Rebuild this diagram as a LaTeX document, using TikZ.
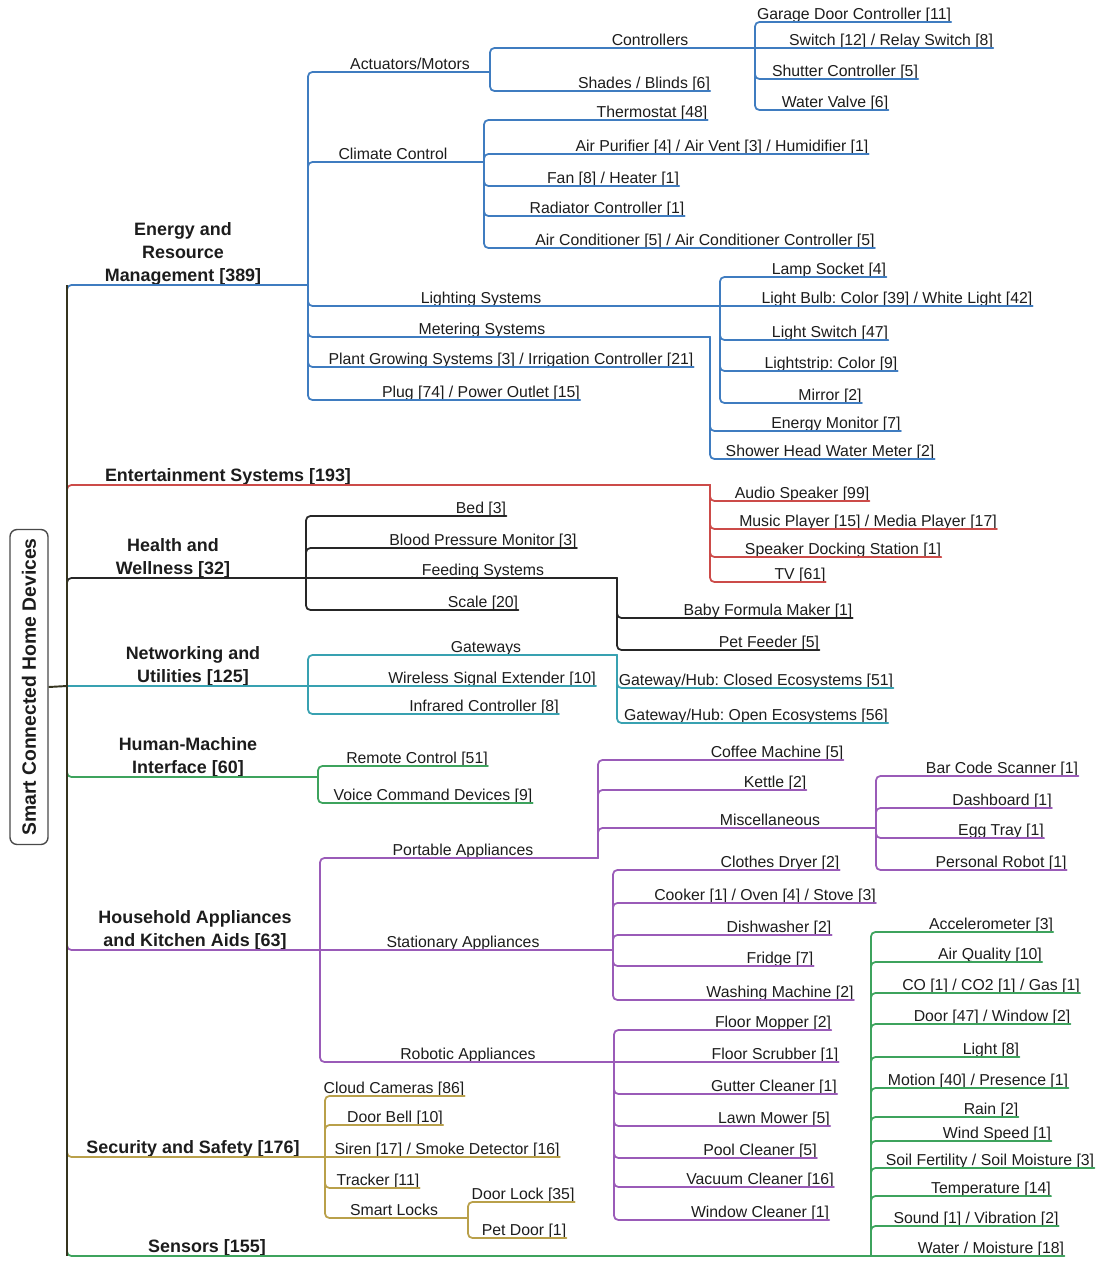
\documentclass[tikz,border=0pt]{standalone}
\usepackage{fontspec}
\setmainfont{Liberation Sans}
\frenchspacing
\definecolor{sdblue}{HTML}{3F7CC0}
\definecolor{sdred}{HTML}{CC4B49}
\definecolor{sdblack}{HTML}{262626}
\definecolor{sdteal}{HTML}{38A1B1}
\definecolor{sdgreen}{HTML}{3DA35D}
\definecolor{sdpurple}{HTML}{9A5BB8}
\definecolor{sdgold}{HTML}{B9A04A}
\definecolor{sdtrunk}{HTML}{35341F}
\definecolor{sdink}{HTML}{1C1C1C}
\tikzset{
  lf/.style={anchor=south, inner xsep=0pt, inner ysep=1pt, text depth=0pt, text=sdink, font=\fontsize{9}{11}\selectfont},
  cat/.style={lf, inner ysep=2pt, align=center, font=\fontsize{10.2}{13}\selectfont\bfseries},
  rootbox/.style={draw=sdink!80, line width=0.8pt, rounded corners=4pt, rotate=90, minimum width=6.3cm, minimum height=0.76cm, inner sep=0pt, text=sdink, font=\fontsize{11}{13}\selectfont\bfseries},
  br/.style={line width=1pt, rounded corners=2.5pt, line cap=round},
  eb/.style={br, draw=sdblue},
  en/.style={br, draw=sdred},
  hw/.style={br, draw=sdblack},
  nu/.style={br, draw=sdteal},
  hm/.style={br, draw=sdgreen},
  ha/.style={br, draw=sdpurple},
  ss/.style={br, draw=sdgold},
  sn/.style={br, draw=sdgreen},
  trunk/.style={line width=1.1pt, draw=sdtrunk},
}
\begin{document}
\begin{tikzpicture}[x=0.02cm, y=-0.02cm]
  \useasboundingbox (0,0) rectangle (1105,1262);
  \node[rootbox] (rootbox) at (29,687) {Smart Connected Home Devices};
  \coordinate (tr) at (67,686);

  \coordinate (energy-j) at (308,285);
  \node[cat] (energy) at (183,285) {Energy and\\Resource\\Management [389]};
  \draw[eb] (tr) |- (energy-j);
  \coordinate (act-j) at (490,72);
  \node[lf] (act) at (410,72) {Actuators/Motors};
  \draw[eb] (energy-j) |- (act-j);
  \coordinate (ctrl-j) at (755,48);
  \node[lf] (ctrl) at (650,48) {Controllers};
  \draw[eb] (act-j) |- (ctrl-j);
  \node[lf] (garage) at (854,22) {Garage Door Controller [11]};
  \draw[eb] (ctrl-j) |- (garage.south east);
  \node[lf] (relay) at (891,48) {Switch [12] / Relay Switch [8]};
  \draw[eb] (ctrl-j) -- (relay.south east);
  \node[lf] (shutter) at (845,79) {Shutter Controller [5]};
  \draw[eb] (ctrl-j) |- (shutter.south east);
  \node[lf] (valve) at (835,110) {Water Valve [6]};
  \draw[eb] (ctrl-j) |- (valve.south east);
  \node[lf] (shades) at (644,91) {Shades / Blinds [6]};
  \draw[eb] (act-j) |- (shades.south east);
  \coordinate (clim-j) at (484,162);
  \node[lf] (clim) at (393,162) {Climate Control};
  \draw[eb] (energy-j) |- (clim-j);
  \node[lf] (thermo) at (652,120) {Thermostat [48]};
  \draw[eb] (clim-j) |- (thermo.south east);
  \node[lf] (purif) at (722,154) {Air Purifier [4] / Air Vent [3] / Humidifier [1]};
  \draw[eb] (clim-j) |- (purif.south east);
  \node[lf] (fan) at (613,186) {Fan [8] / Heater [1]};
  \draw[eb] (clim-j) |- (fan.south east);
  \node[lf] (radiator) at (607,216) {Radiator Controller [1]};
  \draw[eb] (clim-j) |- (radiator.south east);
  \node[lf] (aircon) at (705,248) {Air Conditioner [5] / Air Conditioner Controller [5]};
  \draw[eb] (clim-j) |- (aircon.south east);
  \coordinate (lights-j) at (720,306);
  \node[lf] (lights) at (481,306) {Lighting Systems};
  \draw[eb] (energy-j) |- (lights-j);
  \node[lf] (lamp) at (829,277) {Lamp Socket [4]};
  \draw[eb] (lights-j) |- (lamp.south east);
  \node[lf] (bulb) at (897,306) {Light Bulb: Color [39] / White Light [42]};
  \draw[eb] (lights-j) -- (bulb.south east);
  \node[lf] (lswitch) at (830,340) {Light Switch [47]};
  \draw[eb] (lights-j) |- (lswitch.south east);
  \node[lf] (strip) at (831,371) {Lightstrip: Color [9]};
  \draw[eb] (lights-j) |- (strip.south east);
  \node[lf] (mirror) at (830,403) {Mirror [2]};
  \draw[eb] (lights-j) |- (mirror.south east);
  \coordinate (meter-j) at (710,337);
  \node[lf] (meter) at (482,337) {Metering Systems};
  \draw[eb] (energy-j) |- (meter-j);
  \node[lf] (energymon) at (836,431) {Energy Monitor [7]};
  \draw[eb] (meter-j) |- (energymon.south east);
  \node[lf] (shower) at (830,459) {Shower Head Water Meter [2]};
  \draw[eb] (meter-j) |- (shower.south east);
  \node[lf] (plant) at (511,367) {Plant Growing Systems [3] / Irrigation Controller [21]};
  \draw[eb] (energy-j) |- (plant.south east);
  \node[lf] (plug) at (481,400) {Plug [74] / Power Outlet [15]};
  \draw[eb] (energy-j) |- (plug.south east);

  \coordinate (entert-j) at (710,485);
  \node[cat] (entert) at (228,485) {Entertainment Systems [193]};
  \draw[en] (tr) |- (entert-j);
  \node[lf] (audio) at (802,501) {Audio Speaker [99]};
  \draw[en] (entert-j) |- (audio.south east);
  \node[lf] (music) at (868,529) {Music Player [15] / Media Player [17]};
  \draw[en] (entert-j) |- (music.south east);
  \node[lf] (dock) at (843,557) {Speaker Docking Station [1]};
  \draw[en] (entert-j) |- (dock.south east);
  \node[lf] (tv) at (800,582) {TV [61]};
  \draw[en] (entert-j) |- (tv.south east);

  \coordinate (health-j) at (306,578);
  \node[cat] (health) at (173,578) {Health and\\Wellness [32]};
  \draw[hw] (tr) |- (health-j);
  \node[lf] (bed) at (481,516) {Bed [3]};
  \draw[hw] (health-j) |- (bed.south east);
  \node[lf] (bp) at (483,548) {Blood Pressure Monitor [3]};
  \draw[hw] (health-j) |- (bp.south east);
  \coordinate (feed-j) at (617,578);
  \node[lf] (feed) at (483,578) {Feeding Systems};
  \draw[hw] (health-j) -- (feed-j);
  \node[lf] (baby) at (768,618) {Baby Formula Maker [1]};
  \draw[hw] (feed-j) |- (baby.south east);
  \node[lf] (petfeed) at (769,650) {Pet Feeder [5]};
  \draw[hw] (feed-j) |- (petfeed.south east);
  \node[lf] (scale) at (483,610) {Scale [20]};
  \draw[hw] (health-j) |- (scale.south east);

  \coordinate (network-j) at (308,686);
  \node[cat] (network) at (193,686) {Networking and\\Utilities [125]};
  \draw[nu] (tr) -- (network-j);
  \coordinate (gw-j) at (617,655);
  \node[lf] (gw) at (486,655) {Gateways};
  \draw[nu] (network-j) |- (gw-j);
  \node[lf] (closed) at (756,688) {Gateway/Hub: Closed Ecosystems [51]};
  \draw[nu] (gw-j) |- (closed.south east);
  \node[lf] (open) at (756,723) {Gateway/Hub: Open Ecosystems [56]};
  \draw[nu] (gw-j) |- (open.south east);
  \node[lf] (ext) at (492,686) {Wireless Signal Extender [10]};
  \draw[nu] (network-j) -- (ext.south east);
  \node[lf] (ir) at (484,714) {Infrared Controller [8]};
  \draw[nu] (network-j) |- (ir.south east);

  \coordinate (hmi-j) at (318,777);
  \node[cat] (hmi) at (188,777) {Human-Machine\\Interface [60]};
  \draw[hm] (tr) |- (hmi-j);
  \node[lf] (remote) at (417,766) {Remote Control [51]};
  \draw[hm] (hmi-j) |- (remote.south east);
  \node[lf] (voice) at (433,803) {Voice Command Devices [9]};
  \draw[hm] (hmi-j) |- (voice.south east);

  \coordinate (house-j) at (320,950);
  \node[cat] (house) at (195,950) {Household Appliances\\and Kitchen Aids [63]};
  \draw[ha] (tr) |- (house-j);
  \coordinate (port-j) at (598,858);
  \node[lf] (port) at (463,858) {Portable Appliances};
  \draw[ha] (house-j) |- (port-j);
  \node[lf] (coffee) at (777,760) {Coffee Machine [5]};
  \draw[ha] (port-j) |- (coffee.south east);
  \node[lf] (kettle) at (775,790) {Kettle [2]};
  \draw[ha] (port-j) |- (kettle.south east);
  \coordinate (misc-j) at (876,828);
  \node[lf] (misc) at (770,828) {Miscellaneous};
  \draw[ha] (port-j) |- (misc-j);
  \node[lf] (barcode) at (1002,776) {Bar Code Scanner [1]};
  \draw[ha] (misc-j) |- (barcode.south east);
  \node[lf] (dash) at (1002,808) {Dashboard [1]};
  \draw[ha] (misc-j) |- (dash.south east);
  \node[lf] (egg) at (1001,838) {Egg Tray [1]};
  \draw[ha] (misc-j) |- (egg.south east);
  \node[lf] (probot) at (1001,870) {Personal Robot [1]};
  \draw[ha] (misc-j) |- (probot.south east);
  \coordinate (stat-j) at (613,950);
  \node[lf] (stat) at (463,950) {Stationary Appliances};
  \draw[ha] (house-j) -- (stat-j);
  \node[lf] (dryer) at (780,870) {Clothes Dryer [2]};
  \draw[ha] (stat-j) |- (dryer.south east);
  \node[lf] (cooker) at (765,903) {Cooker [1] / Oven [4] / Stove [3]};
  \draw[ha] (stat-j) |- (cooker.south east);
  \node[lf] (dish) at (779,935) {Dishwasher [2]};
  \draw[ha] (stat-j) |- (dish.south east);
  \node[lf] (fridge) at (780,966) {Fridge [7]};
  \draw[ha] (stat-j) |- (fridge.south east);
  \node[lf] (wash) at (780,1000) {Washing Machine [2]};
  \draw[ha] (stat-j) |- (wash.south east);
  \coordinate (robo-j) at (614,1062);
  \node[lf] (robo) at (468,1062) {Robotic Appliances};
  \draw[ha] (house-j) |- (robo-j);
  \node[lf] (mop) at (773,1030) {Floor Mopper [2]};
  \draw[ha] (robo-j) |- (mop.south east);
  \node[lf] (scrub) at (775,1062) {Floor Scrubber [1]};
  \draw[ha] (robo-j) -- (scrub.south east);
  \node[lf] (gutter) at (774,1094) {Gutter Cleaner [1]};
  \draw[ha] (robo-j) |- (gutter.south east);
  \node[lf] (lawn) at (774,1126) {Lawn Mower [5]};
  \draw[ha] (robo-j) |- (lawn.south east);
  \node[lf] (pool) at (760,1158) {Pool Cleaner [5]};
  \draw[ha] (robo-j) |- (pool.south east);
  \node[lf] (vac) at (760,1187) {Vacuum Cleaner [16]};
  \draw[ha] (robo-j) |- (vac.south east);
  \node[lf] (wclean) at (760,1220) {Window Cleaner [1]};
  \draw[ha] (robo-j) |- (wclean.south east);

  \coordinate (security-j) at (325,1157);
  \node[cat] (security) at (193,1157) {Security and Safety [176]};
  \draw[ss] (tr) |- (security-j);
  \node[lf] (cloud) at (394,1096) {Cloud Cameras [86]};
  \draw[ss] (security-j) |- (cloud.south east);
  \node[lf] (bell) at (395,1125) {Door Bell [10]};
  \draw[ss] (security-j) |- (bell.south east);
  \node[lf] (siren) at (447,1157) {Siren [17] / Smoke Detector [16]};
  \draw[ss] (security-j) -- (siren.south east);
  \node[lf] (tracker) at (378,1188) {Tracker [11]};
  \draw[ss] (security-j) |- (tracker.south east);
  \coordinate (locks-j) at (468,1218);
  \node[lf] (locks) at (394,1218) {Smart Locks};
  \draw[ss] (security-j) |- (locks-j);
  \node[lf] (doorlock) at (523,1202) {Door Lock [35]};
  \draw[ss] (locks-j) |- (doorlock.south east);
  \node[lf] (petdoor) at (524,1238) {Pet Door [1]};
  \draw[ss] (locks-j) |- (petdoor.south east);

  \coordinate (sensors-j) at (871,1256);
  \node[cat] (sensors) at (207,1256) {Sensors [155]};
  \draw[sn] (tr) |- (sensors-j);
  \node[lf] (accel) at (991,932) {Accelerometer [3]};
  \draw[sn] (sensors-j) |- (accel.south east);
  \node[lf] (airq) at (990,962) {Air Quality [10]};
  \draw[sn] (sensors-j) |- (airq.south east);
  \node[lf] (gas) at (991,993) {CO [1] / CO2 [1] / Gas [1]};
  \draw[sn] (sensors-j) |- (gas.south east);
  \node[lf] (window) at (992,1024) {Door [47] / Window [2]};
  \draw[sn] (sensors-j) |- (window.south east);
  \node[lf] (lightsens) at (991,1057) {Light [8]};
  \draw[sn] (sensors-j) |- (lightsens.south east);
  \node[lf] (motion) at (978,1088) {Motion [40] / Presence [1]};
  \draw[sn] (sensors-j) |- (motion.south east);
  \node[lf] (rain) at (991,1117) {Rain [2]};
  \draw[sn] (sensors-j) |- (rain.south east);
  \node[lf] (wind) at (997,1141) {Wind Speed [1]};
  \draw[sn] (sensors-j) |- (wind.south east);
  \node[lf] (soil) at (990,1168) {Soil Fertility / Soil Moisture [3]};
  \draw[sn] (sensors-j) |- (soil.south east);
  \node[lf] (temp) at (991,1196) {Temperature [14]};
  \draw[sn] (sensors-j) |- (temp.south east);
  \node[lf] (sound) at (976,1226) {Sound [1] / Vibration [2]};
  \draw[sn] (sensors-j) |- (sound.south east);
  \node[lf] (water) at (991,1256) {Water / Moisture [18]};
  \draw[sn] (sensors-j) -- (water.south east);

  \draw[trunk] (rootbox.south) -- (tr);
  \draw[trunk] (tr |- energy-j) -- (tr |- sensors-j);
\end{tikzpicture}
\end{document}
